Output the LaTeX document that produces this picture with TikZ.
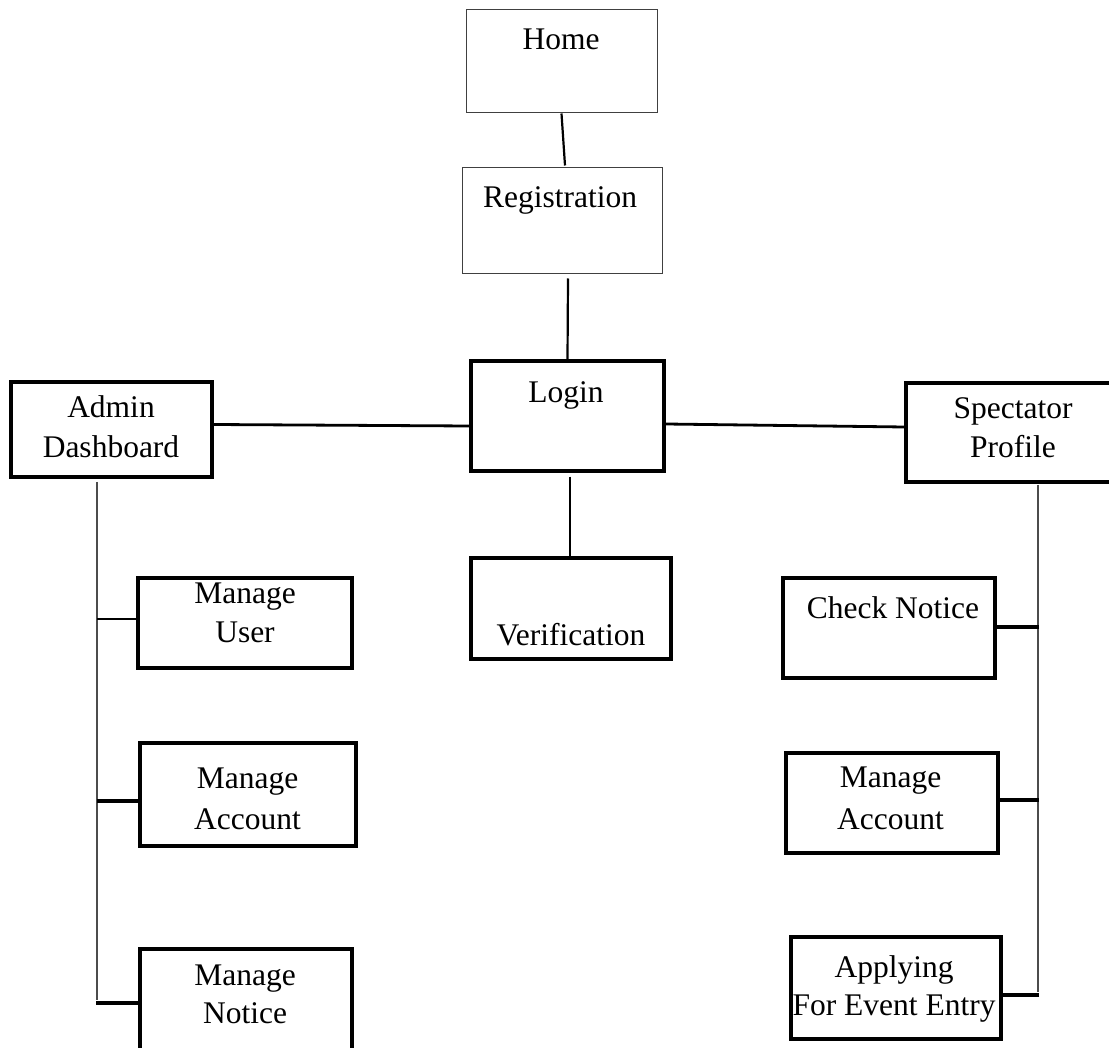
\documentclass[tikz,border=0pt]{standalone}
\usepackage{fontspec}
\setmainfont{Liberation Serif}
\begin{document}
\begin{tikzpicture}[x=1pt,y=-1pt,
  thickbox/.style={draw=black,line width=3.5pt,inner sep=0pt,minimum width=#1},
  thinbox/.style={draw=black!75,line width=1pt,inner sep=0pt,minimum width=#1},
  txt/.style={inner sep=0pt,anchor=base,font=\fontsize{31.5}{40}\selectfont},
  link/.style={draw=black,line width=2.8pt},
  spine/.style={draw=black!70,line width=1.5pt},
  branch/.style={draw=black,line width=3.2pt}]
\useasboundingbox (0,0) rectangle (1109,1048);
% boxes
\node[thinbox=191pt,minimum height=103pt] (home) at (561.5,61.5) {};
\node[thinbox=200pt,minimum height=106pt] (reg) at (562,221) {};
\node[thickbox=193pt,minimum height=110pt] (login) at (567.5,416) {};
\node[thickbox=201pt,minimum height=95pt] (admin) at (111.5,429.5) {};
\node[thickbox=214pt,minimum height=99pt] (spec) at (1013,432.5) {};
\node[thickbox=200pt,minimum height=101pt] (verif) at (571,608.5) {};
\node[thickbox=214pt,minimum height=90pt] (mu) at (245,623) {};
\node[thickbox=216pt,minimum height=103pt] (ma) at (248,794.5) {};
\node[thickbox=212pt,minimum height=111pt] (mn) at (246,1004.5) {};
\node[thickbox=212pt,minimum height=100pt] (cn) at (889,628) {};
\node[thickbox=212pt,minimum height=100pt] (mar) at (892,803) {};
\node[thickbox=210pt,minimum height=102pt] (ap) at (896,988) {};
% texts
\node[txt] (homeT) at (561,50) {Home};
\node[txt] (regT) at (560,208) {Registration};
\node[txt] (loginT) at (566,403) {Login};
\node[txt] (adminT1) at (111,418) {Admin};
\node[txt] (adminT2) at (111,458) {Dashboard};
\node[txt] (specT1) at (1013,419) {Spectator};
\node[txt] (specT2) at (1013,457) {Profile};
\node[txt] (verifT) at (571,645) {Verification};
\node[txt] (muT1) at (245,603) {Manage};
\node[txt] (muT2) at (245,642) {User};
\node[txt] (maT1) at (247.5,788) {Manage};
\node[txt] (maT2) at (247.5,829) {Account};
\node[txt] (mnT1) at (245,985) {Manage};
\node[txt] (mnT2) at (245,1023) {Notice};
\node[txt] (cnT) at (893,618) {Check Notice};
\node[txt] (marT1) at (890.5,787) {Manage};
\node[txt] (marT2) at (890.5,829) {Account};
\node[txt] (apT1) at (894,977) {Applying};
\node[txt] (apT2) at (894,1015) {For Event Entry};
% main connectors
\draw[link,line width=2.2pt] (home.south) -- ([xshift=3pt,yshift=2pt]reg.north);
\draw[link,line width=2.2pt] ([xshift=6pt,yshift=-4pt]reg.south) -- (login.north);
\draw[link] ([yshift=5pt]admin.east) -- ([yshift=-10pt]login.west);
\draw[link] ([yshift=-8pt]login.east) -- ([yshift=5.5pt]spec.west);
\draw[link,line width=2.2pt] ([xshift=2.5pt,yshift=-4pt]login.south) -- ([xshift=-1pt]verif.north);
% left spine
\coordinate (ls1) at (97,482);
\coordinate (ls2) at (97,1000);
\draw[spine] (ls1) -- (ls2);
\coordinate (lb1) at (97,619);
\coordinate (lb2) at (97,801);
\coordinate (lb3) at (96,1003);
\draw[branch,line width=2.2pt] (lb1) -- (lb1 -| mu.west);
\draw[branch] (lb2) -- (lb2 -| ma.west);
\draw[branch] (lb3) -- (lb3 -| mn.west);
% right spine
\coordinate (rs1) at (1038,485);
\coordinate (rs2) at (1038,992);
\draw[spine] (rs1) -- (rs2);
\coordinate (rb1) at (1039,627);
\coordinate (rb2) at (1039,800);
\coordinate (rb3) at (1039,995);
\draw[branch] (rb1) -- (rb1 -| cn.east);
\draw[branch] (rb2) -- (rb2 -| mar.east);
\draw[branch] (rb3) -- (rb3 -| ap.east);
\end{tikzpicture}
\end{document}
